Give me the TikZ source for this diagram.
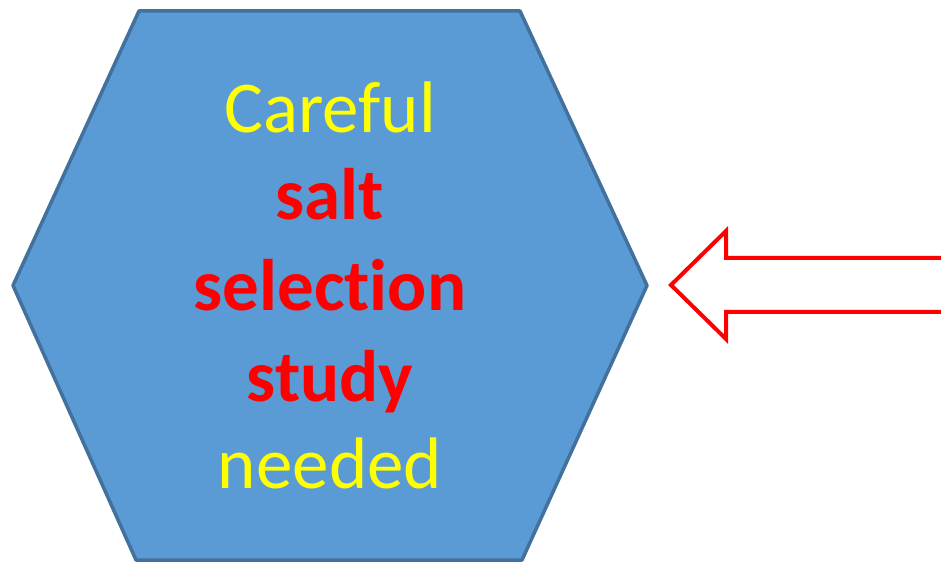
\documentclass[tikz,border=0pt]{standalone}
\usepackage{fontspec}
\setmainfont{Carlito}[RawFeature={-liga}]
\definecolor{hexfill}{HTML}{5B9BD5}
\definecolor{hexline}{HTML}{41719C}
\definecolor{txtyellow}{HTML}{FFFF00}
\definecolor{txtred}{HTML}{FF0000}
\begin{document}
\begin{tikzpicture}[x=1pt,y=1pt,
  txtline/.style={anchor=base,inner sep=0pt,font=\fontsize{73}{88}\selectfont},
  plain/.style={txtline,text=txtyellow},
  strong/.style={txtline,text=txtred,font=\fontsize{73}{88}\selectfont\bfseries}]
\useasboundingbox (0,0) rectangle (941,562);
\clip (0,0) rectangle (941,562);
% hexagon
\draw[hexline,line width=3.5pt,fill=hexfill,line join=round]
  (139,551) -- (520,551) -- (647,276.5) -- (522,2) -- (136,2) -- (13,276.5) -- cycle;
% texts
\node[plain]  (l1) at (330,429) {Careful};
\node[strong] (l2) at (330,342) {salt};
\node[strong] (l3) at (330,251) {selection};
\node[strong] (l4) at (330,160) {study};
\node[plain]  (l5) at (330,74)  {needed};
% block arrow
\draw[txtred,line width=4pt,line join=miter,fill=white]
  (671,277) -- (726,331) -- (726,304) -- (960,304) -- (960,250) -- (726,250) -- (726,223) -- cycle;
\end{tikzpicture}
\end{document}
